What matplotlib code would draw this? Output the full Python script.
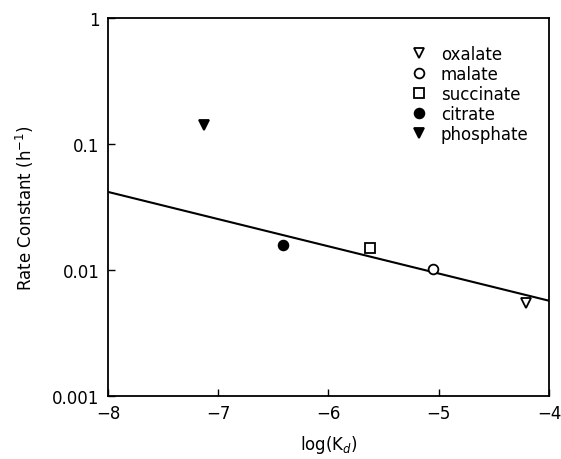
import numpy as np
import matplotlib.pyplot as plt

# Дані
names = ['oxalate', 'malate', 'succinate', 'citrate', 'phosphate']
log_kd = [-4.21, -5.05, -5.62, -6.41, -7.13]
rate = [0.0055, 0.0102, 0.0148, 0.0157, 0.14]
markers = ['v', 'o', 's', 'o', 'v']
filled = [False, False, False, True, True]

# Лінія регресії
fit_x = [-8, -4]
fit_y = [0.0416, 0.0057]

plt.rcParams['font.family'] = 'DejaVu Sans'

fig = plt.figure(figsize=(5.61, 4.60), dpi=100)
ax = fig.add_axes([0.1925, 0.137, 0.786, 0.822])

ax.plot(fit_x, fit_y, color='black', linewidth=1.5)

for n, x, y, m, f in zip(names, log_kd, rate, markers, filled):
    ax.plot(x, y, linestyle='none', marker=m, markersize=7,
            markerfacecolor='black' if f else 'white',
            markeredgecolor='black', markeredgewidth=1.3, label=n)

ax.set_yscale('log')
ax.set_xlim(-8, -4)
ax.set_ylim(0.001, 1)
ax.set_xticks([-8, -7, -6, -5, -4])
ax.set_xticklabels(['\u22128', '\u22127', '\u22126', '\u22125', '\u22124'])
ax.set_yticks([0.001, 0.01, 0.1, 1])
ax.set_yticklabels(['0.001', '0.01', '0.1', '1'])
ax.yaxis.set_minor_locator(plt.NullLocator())
ax.tick_params(direction='in', length=5, width=1, labelsize=12, pad=6)

for s in ax.spines.values():
    s.set_linewidth(1.3)

ax.set_xlabel('log(K$_d$)', fontsize=12, labelpad=8)
ax.set_ylabel('Rate Constant (h$^{-1}$)', fontsize=12, labelpad=12)

ax.legend(loc='upper left', bbox_to_anchor=(0.672, 0.945), frameon=False,
          fontsize=12, handlelength=1.0, handletextpad=0.8,
          labelspacing=0.12, borderaxespad=0)

fig.savefig('out.png', dpi=100)
